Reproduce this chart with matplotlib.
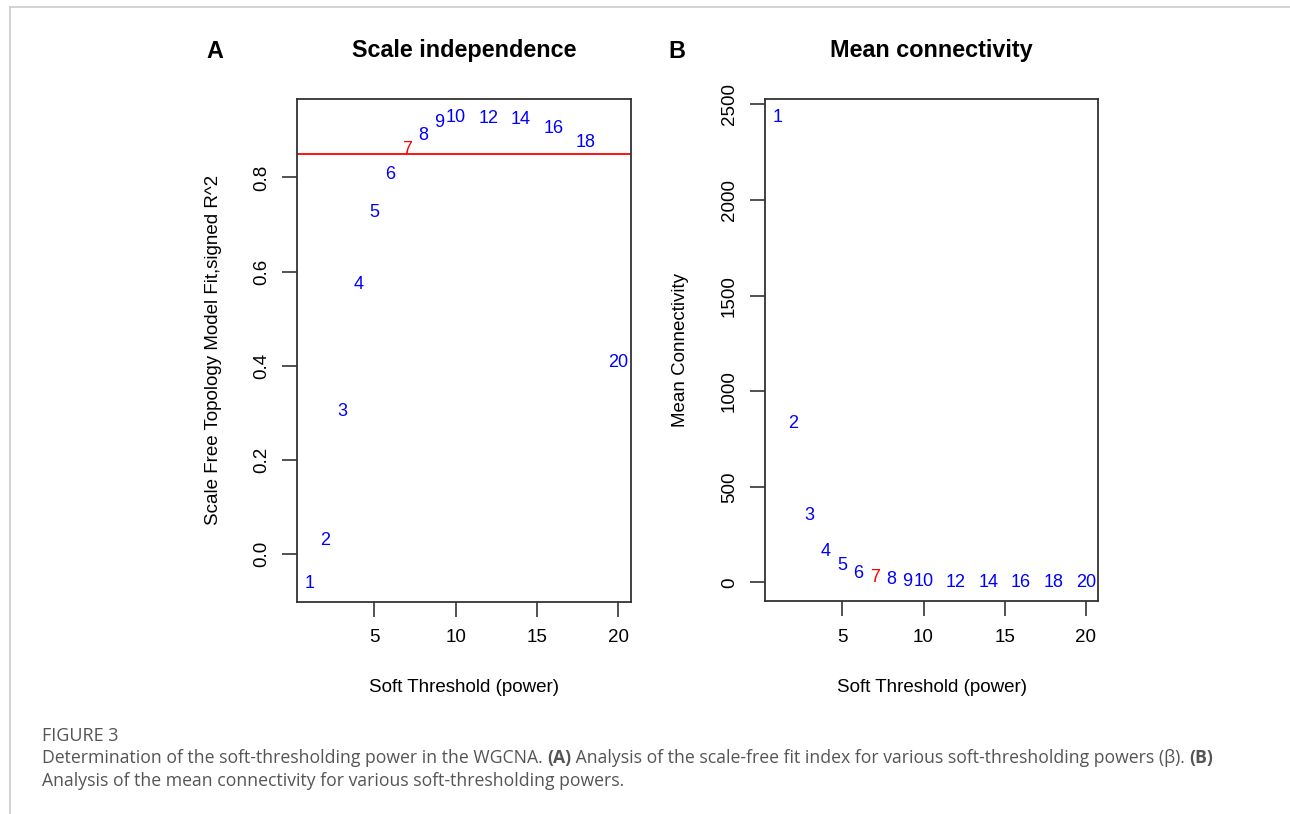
import matplotlib
matplotlib.use("Agg")
import matplotlib.pyplot as plt
from matplotlib.lines import Line2D
from matplotlib.ticker import MultipleLocator

# soft-threshold powers tested and the WGCNA fit results
powers = [1, 2, 3, 4, 5, 6, 7, 8, 9, 10, 12, 14, 16, 18, 20]
sft_r2 = [-0.062, 0.028, 0.302, 0.572, 0.726, 0.806, 0.860, 0.889, 0.916,
          0.927, 0.926, 0.923, 0.904, 0.874, 0.407]
mean_k = [2430, 831, 349, 162, 87, 49, 28, 14, 6, 5, 2, 1.5, 1, 0.5, 0.3]
r2_cut = 0.85
picked = 7

W, H = 1290, 814
plt.rcParams['font.family'] = ['Liberation Sans', 'DejaVu Sans']

fig = plt.figure(figsize=(W / 100, H / 100), dpi=100)


def fx(px):
    return px / W


def fy(py):
    return 1 - py / H


def r_lims(vals):
    # R pads the data range by 4% on each side
    lo, hi = min(vals), max(vals)
    pad = (hi - lo) * 0.04
    return lo - pad, hi + pad


def panel(ax, yvals, ystep):
    for p, v in zip(powers, yvals):
        col = 'red' if p == picked else 'blue'
        ax.text(p, v, str(p), color=col, ha='center', va='center', fontsize=13)
    ax.set_xlim(r_lims(powers))
    ax.set_ylim(r_lims(yvals))
    ax.xaxis.set_major_locator(MultipleLocator(5))
    ax.yaxis.set_major_locator(MultipleLocator(ystep))
    ax.tick_params(direction='out', length=11, width=1.2, labelsize=13.5,
                   color='#333333')
    ax.tick_params(axis='x', pad=9)
    ax.tick_params(axis='y', pad=8.5, labelrotation=90)
    for lab in ax.get_yticklabels():
        lab.set_va('center')
    for s in ax.spines.values():
        s.set_linewidth(1.3)
        s.set_color('#333333')


ax_a = fig.add_axes([fx(297), fy(601.7), fx(630.7 - 297), (601.7 - 99) / H])
ax_b = fig.add_axes([fx(765), fy(601), fx(1098.3 - 765), (601 - 99.3) / H])

panel(ax_a, sft_r2, 0.2)
ax_a.axhline(r2_cut, color='red', lw=1.3)
ax_a.yaxis.set_major_formatter(plt.FuncFormatter(lambda v, _: f"{v:.1f}"))

panel(ax_b, mean_k, 500)
ax_b.yaxis.set_major_formatter(plt.FuncFormatter(lambda v, _: f"{v:.0f}"))

# titles, panel letters and axis labels
fig.text(fx(464), fy(50), "Scale independence", ha='center', va='center',
         fontsize=16.8, weight='bold')
fig.text(fx(931.7), fy(50), "Mean connectivity", ha='center', va='center',
         fontsize=16.8, weight='bold')
fig.text(fx(215), fy(52), "A", ha='center', va='center', fontsize=16.8, weight='bold')
fig.text(fx(677), fy(52), "B", ha='center', va='center', fontsize=16.8, weight='bold')
fig.text(fx(464), fy(687), "Soft Threshold (power)", ha='center', va='center', fontsize=13.5)
fig.text(fx(931.7), fy(687), "Soft Threshold (power)", ha='center', va='center', fontsize=13.5)
fig.text(fx(213), fy(350), "Scale Free Topology Model Fit,signed R^2", ha='center',
         va='center', rotation=90, fontsize=13.5)
fig.text(fx(680), fy(350), "Mean Connectivity", ha='center', va='center',
         rotation=90, fontsize=13.5)

# frame lines of the page
fig.add_artist(Line2D([fx(10), 1], [fy(7), fy(7)], color='#cccccc', lw=1.2))
fig.add_artist(Line2D([fx(10), fx(10)], [fy(7), 0], color='#cccccc', lw=1.2))

# caption
cap_font = ['Open Sans', 'DejaVu Sans']
cap_col = '#555555'
fig.text(fx(42), fy(736), "FIGURE 3", ha='left', va='center', fontsize=13,
         color=cap_col, family=cap_font)

renderer = fig.canvas.get_renderer()


def runs(x, y, parts):
    for txt, bold in parts:
        t = fig.text(x, y, txt, ha='left', va='center', fontsize=12.7, color=cap_col,
                     family=cap_font, weight='bold' if bold else 'normal')
        bb = t.get_window_extent(renderer)
        x = bb.x1 / W


runs(fx(42), fy(758), [
    ("Determination of the soft-thresholding power in the WGCNA. ", False),
    ("(A)", True),
    (" Analysis of the scale-free fit index for various soft-thresholding powers (\u03b2). ", False),
    ("(B)", True),
])
runs(fx(42), fy(781), [
    ("Analysis of the mean connectivity for various soft-thresholding powers.", False),
])

fig.savefig("out.png", dpi=100)
